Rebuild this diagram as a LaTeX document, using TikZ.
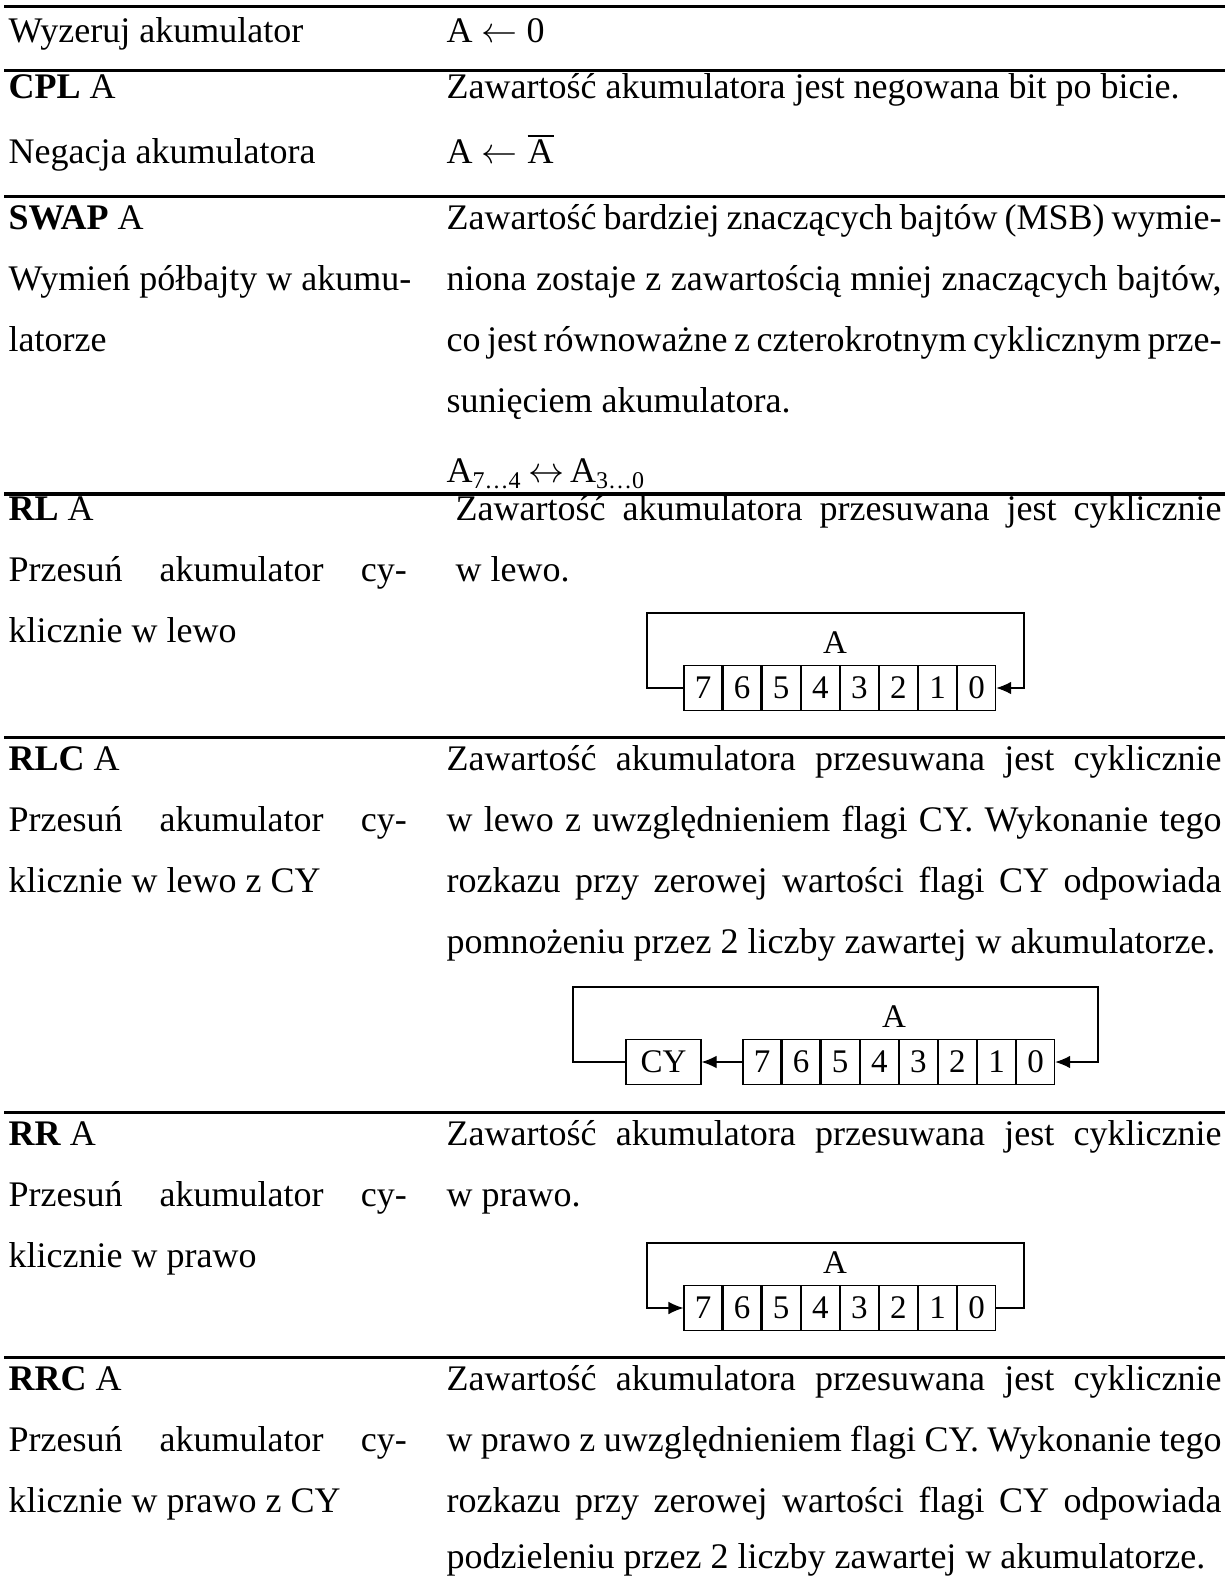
\documentclass[tikz,border=0pt]{standalone}
\usepackage{fontspec}
\setmainfont{Liberation Serif}
\usepackage{tikz}
\usetikzlibrary{arrows.meta,positioning}
\tikzstyle{txt}=[anchor=base west,inner sep=0pt,font=\fontsize{12}{14}\selectfont]
\tikzstyle{rule}=[line width=1pt]
\tikzstyle{wire}=[line width=0.4pt]
\tikzstyle{wirearrow}=[line width=0.4pt,-{Latex[length=5pt,width=4.2pt]}]
\tikzstyle{cell}=[draw,line width=0.4pt,minimum width=12.63pt,minimum height=15pt,inner sep=0pt,font=\fontsize{11}{13}\selectfont]
\tikzstyle{flag}=[cell,minimum width=25pt]
\tikzstyle{reglabel}=[inner sep=0pt,font=\fontsize{11}{13}\selectfont]
\newlength\lcolw \setlength\lcolw{132.7pt}
\newlength\rcolw \setlength\rcolw{258.3pt}
\newlength\rlcolw \setlength\rlcolw{255.3pt}

\begin{document}
\begin{tikzpicture}[x=0.3333pt,y=-0.3333pt]
\useasboundingbox (0,0) rectangle (1225,1580);

% table rules
\draw[rule] (4,7) -- (1225,7);
\draw[rule] (4,71) -- (1225,71);
\draw[rule] (4,197) -- (1225,197);
\draw[rule] (4,494) -- (1225,494);
\draw[rule] (4,737) -- (1225,737);
\draw[rule] (4,1112) -- (1225,1112);
\draw[rule] (4,1357) -- (1225,1357);

% CLR
\node[txt] (clrL1) at (8,43) {Wyzeruj akumulator};
\node[txt] (clrR1) at (446,43) {A $\leftarrow$ 0};

% CPL
\node[txt] (cplL1) at (8,99) {\textbf{CPL} A};
\node[txt] (cplL2) at (8,164) {Negacja akumulatora};
\node[txt] (cplR1) at (446,99) {Zawartość akumulatora jest negowana bit po bicie.};
\node[txt] (cplR2) at (446,164) {A $\leftarrow\overline{\mbox{A}}$};

% SWAP
\node[txt] (swapL1) at (8,230) {\textbf{SWAP} A};
\node[txt] (swapL2) at (8,291) {Wymień półbajty w akumu-};
\node[txt] (swapL3) at (8,352) {latorze};
\node[txt] (swapR1) at (446,230) {\makebox[\rcolw][s]{Zawartość bardziej znaczących bajtów (MSB) wymie-}};
\node[txt] (swapR2) at (446,291) {\makebox[\rcolw][s]{niona zostaje z zawartością mniej znaczących bajtów,}};
\node[txt] (swapR3) at (446,352) {\makebox[\rcolw][s]{co jest równoważne z czterokrotnym cyklicznym prze-}};
\node[txt] (swapR4) at (446,413) {sunięciem akumulatora.};
\node[txt] (swapR5) at (446,483) {A\textsubscript{7…4}\,$\leftrightarrow$\,A\textsubscript{3…0}};

% RL
\node[txt] (rlL1) at (8,520) {\textbf{RL} A};
\node[txt] (rlL2) at (8,581) {\makebox[\lcolw][s]{Przesuń akumulator cy-}};
\node[txt] (rlL3) at (8,642) {klicznie w lewo};
\node[txt] (rlR1) at (455,520) {\makebox[\rlcolw][s]{Zawartość akumulatora przesuwana jest cyklicznie}};
\node[txt] (rlR2) at (455,581) {w lewo.};
\coordinate (rlNW) at (647,613);
\coordinate (rlNE) at (1024,613);
\node[reglabel] (rlA) at (835,643) {A};
\node[cell] (rl7) at (703,688) {7};
\node[cell,right=0pt of rl7] (rl6) {6};
\node[cell,right=0pt of rl6] (rl5) {5};
\node[cell,right=0pt of rl5] (rl4) {4};
\node[cell,right=0pt of rl4] (rl3) {3};
\node[cell,right=0pt of rl3] (rl2) {2};
\node[cell,right=0pt of rl2] (rl1) {1};
\node[cell,right=0pt of rl1] (rl0) {0};
\draw[wirearrow] (rl7.west) -| (rlNW) -- (rlNE) |- (rl0.east);

% RLC
\node[txt] (rlcL1) at (8,770) {\textbf{RLC} A};
\node[txt] (rlcL2) at (8,831) {\makebox[\lcolw][s]{Przesuń akumulator cy-}};
\node[txt] (rlcL3) at (8,892) {klicznie w lewo z CY};
\node[txt] (rlcR1) at (446,770) {\makebox[\rcolw][s]{Zawartość akumulatora przesuwana jest cyklicznie}};
\node[txt] (rlcR2) at (446,831) {\makebox[\rcolw][s]{w~lewo z uwzględnieniem flagi CY. Wykonanie tego}};
\node[txt] (rlcR3) at (446,892) {\makebox[\rcolw][s]{rozkazu przy zerowej wartości flagi CY odpowiada}};
\node[txt] (rlcR4) at (446,953) {pomnożeniu przez 2 liczby zawartej w akumulatorze.};
\coordinate (rlcNW) at (573,987);
\coordinate (rlcNE) at (1098,987);
\node[reglabel] (rlcA) at (894,1017) {A};
\node[flag] (rlcCY) at (663.5,1062) {CY};
\node[cell] (rlc7) at (762,1062) {7};
\node[cell,right=0pt of rlc7] (rlc6) {6};
\node[cell,right=0pt of rlc6] (rlc5) {5};
\node[cell,right=0pt of rlc5] (rlc4) {4};
\node[cell,right=0pt of rlc4] (rlc3) {3};
\node[cell,right=0pt of rlc3] (rlc2) {2};
\node[cell,right=0pt of rlc2] (rlc1) {1};
\node[cell,right=0pt of rlc1] (rlc0) {0};
\draw[wirearrow] (rlc7.west) -- (rlcCY.east);
\draw[wirearrow] (rlcCY.west) -| (rlcNW) -- (rlcNE) |- (rlc0.east);

% RR
\node[txt] (rrL1) at (8,1145) {\textbf{RR} A};
\node[txt] (rrL2) at (8,1206) {\makebox[\lcolw][s]{Przesuń akumulator cy-}};
\node[txt] (rrL3) at (8,1267) {klicznie w prawo};
\node[txt] (rrR1) at (446,1145) {\makebox[\rcolw][s]{Zawartość akumulatora przesuwana jest cyklicznie}};
\node[txt] (rrR2) at (446,1206) {w prawo.};
\coordinate (rrNW) at (647,1243);
\coordinate (rrNE) at (1024,1243);
\node[reglabel] (rrA) at (835,1263) {A};
\node[cell] (rr7) at (703,1308) {7};
\node[cell,right=0pt of rr7] (rr6) {6};
\node[cell,right=0pt of rr6] (rr5) {5};
\node[cell,right=0pt of rr5] (rr4) {4};
\node[cell,right=0pt of rr4] (rr3) {3};
\node[cell,right=0pt of rr3] (rr2) {2};
\node[cell,right=0pt of rr2] (rr1) {1};
\node[cell,right=0pt of rr1] (rr0) {0};
\draw[wirearrow] (rr0.east) -| (rrNE) -- (rrNW) |- (rr7.west);

% RRC
\node[txt] (rrcL1) at (8,1390) {\textbf{RRC} A};
\node[txt] (rrcL2) at (8,1451) {\makebox[\lcolw][s]{Przesuń akumulator cy-}};
\node[txt] (rrcL3) at (8,1512) {klicznie w prawo z CY};
\node[txt] (rrcR1) at (446,1390) {\makebox[\rcolw][s]{Zawartość akumulatora przesuwana jest cyklicznie}};
\node[txt] (rrcR2) at (446,1451) {\makebox[\rcolw][s]{w~prawo z uwzględnieniem flagi CY. Wykonanie tego}};
\node[txt] (rrcR3) at (446,1512) {\makebox[\rcolw][s]{rozkazu przy zerowej wartości flagi CY odpowiada}};
\node[txt] (rrcR4) at (446,1568) {podzieleniu przez 2 liczby zawartej w akumulatorze.};
\end{tikzpicture}
\end{document}
